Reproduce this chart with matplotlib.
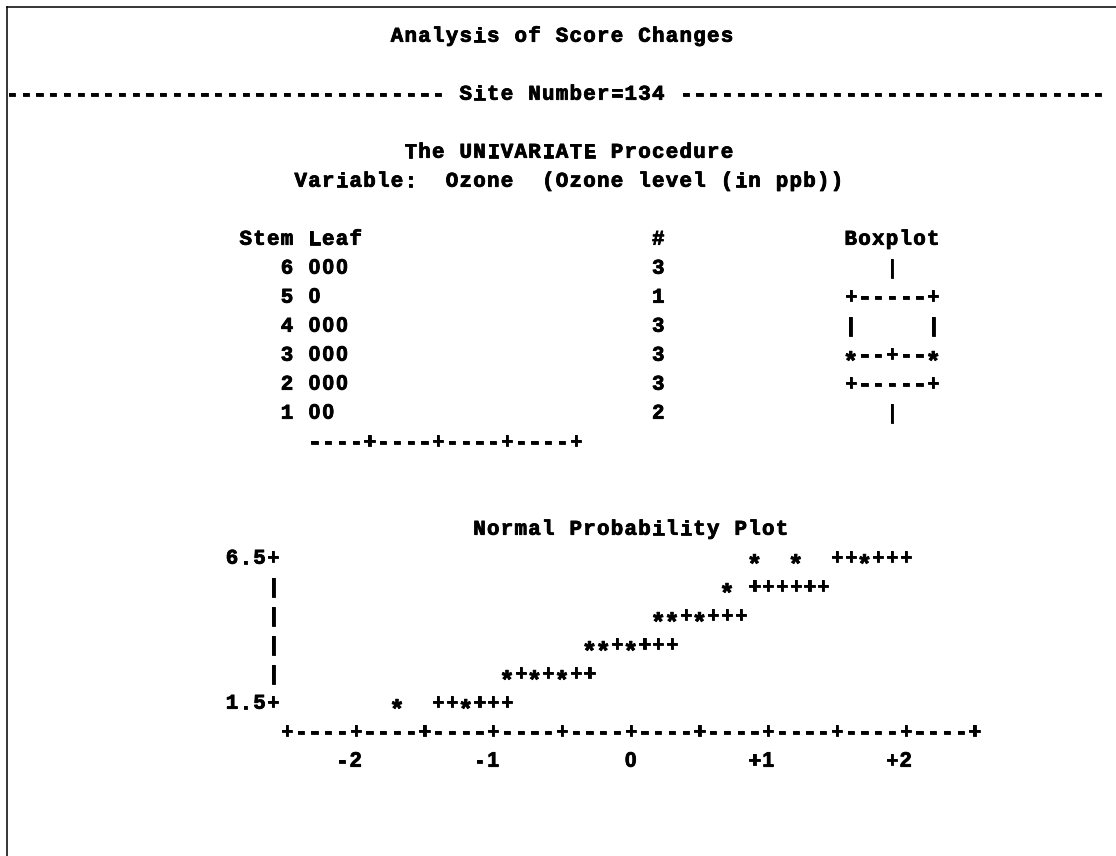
import matplotlib
matplotlib.use("Agg")
import matplotlib.pyplot as plt
import matplotlib.patheffects as pe
from matplotlib.lines import Line2D

# ---- listing text -------------------------------------------------------
title = "Analysis of Score Changes"
by_group = "Site Number=134"
procedure = "The UNIVARIATE Procedure"
variable = "Variable:  Ozone  (Ozone level (in ppb))"

# ---- stem-and-leaf display with boxplot ---------------------------------
stems = [6, 5, 4, 3, 2, 1]
leaves = ["000", "0", "000", "000", "000", "00"]
counts = [3, 1, 3, 3, 3, 2]
leaf_scale = "----+----+----+----+"
boxplot = ["|", "+-----+", "|     |", "*--+--*", "+-----+", "|"]

# ---- normal probability plot --------------------------------------------
plot_title = "Normal Probability Plot"
y_tick_labels = ["6.5", "", "", "", "", "1.5"]
plot_rows = [
    "                                  *  *  ++*+++",
    "                                * ++++++",
    "                           **+*+++",
    "                      **+*+++",
    "                *+*+*++",
    "        *  ++*+++",
]
x_tick_labels = ["-2", "-1", "0", "+1", "+2"]

# ---- page geometry (character grid) -------------------------------------
W, H = 1116, 856
CHAR_W, LINE_H = 13.75, 29.0
X0, Y0 = 12.0, 35.0          # pixel centre of column 0 / line 1
LINE_SIZE = 80

fig = plt.figure(figsize=(W / 100, H / 100), dpi=100)
fig.patch.set_facecolor("white")
ax = fig.add_axes([0, 0, 1, 1])
ax.set_xlim(-X0 / CHAR_W, (W - X0) / CHAR_W)
ax.set_ylim(1 + (H - Y0) / LINE_H, 1 - Y0 / LINE_H)
ax.axis("off")

HEAVY = [pe.withStroke(linewidth=0.6, foreground="black")]
MONO_FAMILY = ["Liberation Mono", "DejaVu Sans Mono"]
SANS_FAMILY = ["Liberation Sans", "DejaVu Sans"]
MONO = dict(family=MONO_FAMILY, weight="bold", size=15, color="black",
            path_effects=HEAVY)
SANS = dict(family=SANS_FAMILY, weight="bold", size=15, color="black",
            path_effects=HEAVY)
BASE = 0.23  # baseline below the line centre, in lines

# glyph tweaks for the line-printer look: longer dashes, larger centred
# asterisks, plain (undotted) zeros; each advance stays within one column
GLYPH_SIZE = {"-": 16.4, "*": 18.5}
GLYPH_DROP = {"-": 0.6 / LINE_H, "*": 8.2 / LINE_H}
GLYPH_FAMILY = {"0": SANS_FAMILY, "*": SANS_FAMILY}


def put(text, col, line, style=MONO):
    """Write text on the listing grid, one character per column."""
    for i, ch in enumerate(text):
        if ch == " ":
            continue
        st = dict(style)
        drop = 0.0
        if style is MONO:
            st["size"] = GLYPH_SIZE.get(ch, st["size"])
            st["family"] = GLYPH_FAMILY.get(ch, st["family"])
            drop = GLYPH_DROP.get(ch, 0.0)
        ax.text(col + i, line + BASE + drop, ch, ha="center",
                va="baseline", **st)


# page frame (top and left rules)
fig.add_artist(Line2D([6.7 / W, 1], [1 - 6.5 / H, 1 - 6.5 / H],
                      color="black", lw=1.1, transform=fig.transFigure))
fig.add_artist(Line2D([6.7 / W, 6.7 / W], [0, 1 - 6.5 / H],
                      color="black", lw=1.1, transform=fig.transFigure))

# titles
put(title, 28, 1)
n_left = 32
by_line = ("-" * n_left + " " + by_group + " ")
by_line += "-" * (LINE_SIZE - len(by_line))
put(by_line, 0, 3)
put(procedure, 29, 5)
put(variable, 21, 6)

# stem-and-leaf block
STEM_COL, LEAF_COL, COUNT_COL, BOX_COL = 20, 22, 47, 61
put("Stem", STEM_COL - 3, 8)
put("Leaf", LEAF_COL, 8)
put("#", COUNT_COL, 8)
put("Boxplot", BOX_COL, 8)
for k, (s, lf, n, bx) in enumerate(zip(stems, leaves, counts, boxplot)):
    line = 9 + k
    st = str(s)
    put(st, STEM_COL - len(st) + 1, line)
    put(lf, LEAF_COL, line)
    cn = str(n)
    put(cn, COUNT_COL - len(cn) + 1, line)
    put(bx, BOX_COL + (7 - len(bx)) // 2, line)
put(leaf_scale, LEAF_COL, 9 + len(stems))

# normal probability plot block
AXIS_COL = 20
put(plot_title, 34, 18)
for k, (lab, row) in enumerate(zip(y_tick_labels, plot_rows)):
    line = 19 + k
    if lab:
        put(lab + "+", AXIS_COL - 1 - len(lab), line)
    else:
        put("|", AXIS_COL - 1, line)
    put(row, AXIS_COL, line)
axis_line = "+----" * 10 + "+"
put(axis_line, AXIS_COL, 19 + len(plot_rows))
for k, lab in enumerate(x_tick_labels):
    tick_col = AXIS_COL + 5 + 10 * k
    put(lab, tick_col - len(lab) + 1, 20 + len(plot_rows), SANS)

fig.savefig("out.png", dpi=100, facecolor="white")
